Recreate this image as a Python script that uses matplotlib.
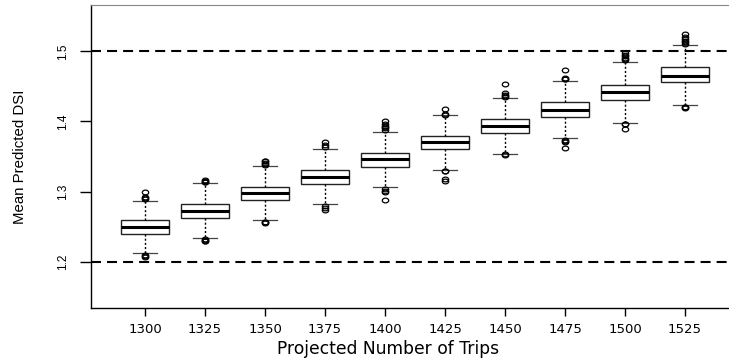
import matplotlib
matplotlib.use("Agg")
import matplotlib.pyplot as plt
import numpy as np
from matplotlib.path import Path

trips = [1300, 1325, 1350, 1375, 1400, 1425, 1450, 1475, 1500, 1525]

q1 = [1.240, 1.262, 1.288, 1.311, 1.335, 1.360, 1.384, 1.407, 1.431, 1.456]
med = [1.250, 1.273, 1.298, 1.321, 1.346, 1.370, 1.394, 1.417, 1.442, 1.465]
q3 = [1.259, 1.282, 1.307, 1.331, 1.355, 1.379, 1.404, 1.428, 1.452, 1.477]
whislo = [1.212, 1.234, 1.259, 1.282, 1.306, 1.331, 1.354, 1.376, 1.398, 1.423]
whishi = [1.286, 1.312, 1.336, 1.361, 1.385, 1.409, 1.433, 1.458, 1.485, 1.509]

fliers = [
    [1.289, 1.291, 1.292, 1.299, 1.210, 1.208, 1.206],
    [1.313, 1.314, 1.315, 1.316, 1.233, 1.231, 1.230, 1.229],
    [1.338, 1.340, 1.341, 1.343, 1.344, 1.257, 1.256, 1.255],
    [1.364, 1.366, 1.371, 1.279, 1.277, 1.274],
    [1.388, 1.390, 1.392, 1.394, 1.397, 1.400, 1.303, 1.301, 1.299, 1.288],
    [1.409, 1.410, 1.418, 1.330, 1.329, 1.318, 1.315],
    [1.435, 1.436, 1.438, 1.440, 1.453, 1.353, 1.352],
    [1.460, 1.461, 1.462, 1.473, 1.374, 1.372, 1.371, 1.362],
    [1.487, 1.489, 1.491, 1.493, 1.495, 1.497, 1.397, 1.396, 1.389],
    [1.511, 1.513, 1.515, 1.517, 1.521, 1.525, 1.421, 1.420, 1.419],
]

limits = [1.2, 1.5]

# slightly flattened circle for the outlier symbol
circ = Path.unit_circle()
ellipse = Path(circ.vertices * np.array([1.35, 1.0]), circ.codes)

stats = []
for i in range(len(trips)):
    stats.append(dict(med=med[i], q1=q1[i], q3=q3[i],
                      whislo=whislo[i], whishi=whishi[i], fliers=fliers[i]))

W, H = 729, 360
fig = plt.figure(figsize=(W / 100, H / 100), dpi=100)
ax = fig.add_axes([91 / W, 52 / H, 648 / W, 303 / H])

pos = np.arange(1, len(trips) + 1)
ax.bxp(
    stats, positions=pos, widths=0.8, capwidths=0.4, patch_artist=True,
    boxprops=dict(facecolor="white", edgecolor="#222222", linewidth=1.0),
    medianprops=dict(color="black", linewidth=2.2),
    whiskerprops=dict(color="black", linewidth=1.0, linestyle=(0, (1.5, 1.5))),
    capprops=dict(color="#444444", linewidth=0.9),
    flierprops=dict(marker=ellipse, markersize=4.6, markerfacecolor="none",
                    markeredgecolor="black", markeredgewidth=0.9),
)

for v in limits:
    ax.axhline(v, color="black", linewidth=1.5, dashes=(4.8, 2.9), zorder=0)

ax.set_xlim(0.1, 10.9)
ax.set_ylim(1.134, 1.566)

ax.spines["right"].set_visible(False)
ax.spines["top"].set_color("#888888")
for s in ["left", "bottom"]:
    ax.spines[s].set_linewidth(1.0)

ax.set_xticks(pos)
ax.set_xticklabels([str(t) for t in trips], fontsize=9.5, family="DejaVu Sans")
ax.set_yticks([1.2, 1.3, 1.4, 1.5])
ax.set_yticklabels(["1.2", "1.3", "1.4", "1.5"], rotation=90, va="center",
                   fontsize=8.5, family="Liberation Sans")
ax.tick_params(axis="x", length=6, width=1.0, pad=5)
ax.tick_params(axis="y", length=8, width=1.0, pad=8)

fig.text(388 / W, 1 - 349 / H, "Projected Number of Trips", ha="center", va="center",
         fontsize=12.3, family="DejaVu Sans")
fig.text(20 / W, 1 - 157 / H, "Mean Predicted DSI", ha="center", va="center",
         rotation=90, fontsize=10.8, family="Liberation Sans")

fig.savefig("out.png", dpi=100)
